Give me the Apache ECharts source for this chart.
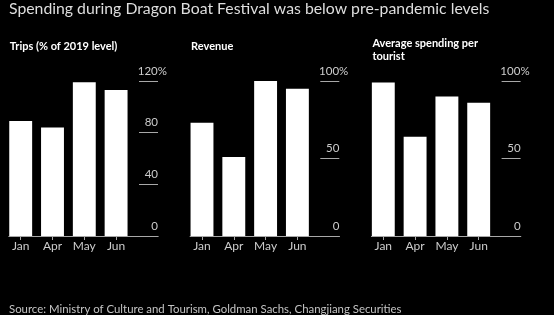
<!DOCTYPE html>
<html><head><meta charset="utf-8">
<script src="https://cdn.jsdelivr.net/npm/echarts@6/dist/echarts.min.js"></script>
<style>html,body{margin:0;padding:0;background:#000}#c{width:554px;height:315px}</style>
</head><body><div id="c"></div>
<script>
const months = ['Jan', 'Apr', 'May', 'Jun'];
const trips = [89, 84, 119, 113];
const revenue = [73, 51, 101, 95];
const spending = [99, 64, 90, 86];
const panelTitles = ['Trips (% of 2019 level)', 'Revenue', 'Average spending per\ntourist'];
const yMax = [120, 100, 100];
const yInterval = [40, 50, 50];
const mainTitle = 'Spending during Dragon Boat Festival was below pre-pandemic levels';
const sourceText = 'Source: Ministry of Culture and Tourism, Goldman Sachs, Changjiang Securities';

const series = [trips, revenue, spending];
const FONT = 'Lato';
const GRAY = '#a8a8a8';
const TOP = 81, H = 155, BAND = 31.8, PW = 181.3, L0 = 4.8;

const grids = [], xAxes = [], yAxes = [], ser = [], titles = [];
titles.push({text: mainTitle, left: 9, top: 0, padding: 0,
  textStyle: {color: '#dedede', fontSize: 15.8, fontWeight: 'normal', fontFamily: FONT, lineHeight: 17}});
titles.push({text: sourceText, left: 9, top: 303, padding: 0,
  textStyle: {color: '#c4c4c4', fontSize: 11.4, fontWeight: 'normal', fontFamily: FONT, lineHeight: 13}});

for (let k = 0; k < 3; k++) {
  const L = L0 + PW * k;
  const gi = grids.length;
  grids.push({left: L, top: TOP, width: BAND * 4, height: H, containLabel: false});
  xAxes.push({gridIndex: gi, type: 'category', data: months,
    axisLine: {show: false},
    axisTick: {show: true, alignWithLabel: true, length: 4, lineStyle: {color: GRAY}},
    axisLabel: {color: '#cccccc', fontSize: 12, fontFamily: FONT, margin: 4}});
  yAxes.push({gridIndex: gi, type: 'value', min: 0, max: yMax[k], interval: yInterval[k], show: false});
  ser.push({type: 'bar', xAxisIndex: gi, yAxisIndex: gi, data: series[k], barCategoryGap: '28%',
    itemStyle: {color: '#ffffff'}, silent: true});
  const bi = grids.length;
  grids.push({left: L + 4, top: TOP, width: 149.4, height: H});
  xAxes.push({gridIndex: bi, type: 'value', min: 0, max: 1, axisLine: {show: true, lineStyle: {color: GRAY, width: 1}},
    axisTick: {show: false}, axisLabel: {show: false}, splitLine: {show: false}});
  yAxes.push({gridIndex: bi, type: 'value', min: 0, max: 1, show: false});
  const yi = grids.length;
  grids.push({left: L + 134.2, top: TOP, width: 19, height: H});
  xAxes.push({gridIndex: yi, type: 'value', min: 0, max: 1, show: false});
  const mx = yMax[k];
  yAxes.push({gridIndex: yi, type: 'value', min: 0, max: mx, interval: yInterval[k], position: 'right',
    axisLine: {show: false}, axisTick: {show: false},
    splitLine: {show: true, lineStyle: {color: GRAY, width: 1}},
    axisLabel: {inside: true, margin: -9, verticalAlign: 'bottom', padding: [0, 0, 4, 0],
      color: '#cccccc', fontSize: 11.5, fontFamily: FONT,
      formatter: v => v === mx ? '{n|' + v + '}{p|%}' : '{n|' + v + '}{q|}',
      rich: {n: {color: '#cccccc', fontSize: 11.5, fontFamily: FONT},
             p: {color: '#cccccc', fontSize: 11.5, fontFamily: FONT},
             q: {width: 9}}}});
  titles.push({text: panelTitles[k], left: L + 5, top: k === 2 ? 36.5 : 39.5, padding: 0,
    textStyle: {color: '#ffffff', fontSize: 11, fontWeight: 'bold', fontFamily: FONT, lineHeight: 13}});
}

const chart = echarts.init(document.getElementById('c'), null, {renderer: 'canvas'});
chart.setOption({
  backgroundColor: '#000000',
  animation: false,
  title: titles,
  grid: grids,
  xAxis: xAxes,
  yAxis: yAxes,
  series: ser
});
</script></body></html>
